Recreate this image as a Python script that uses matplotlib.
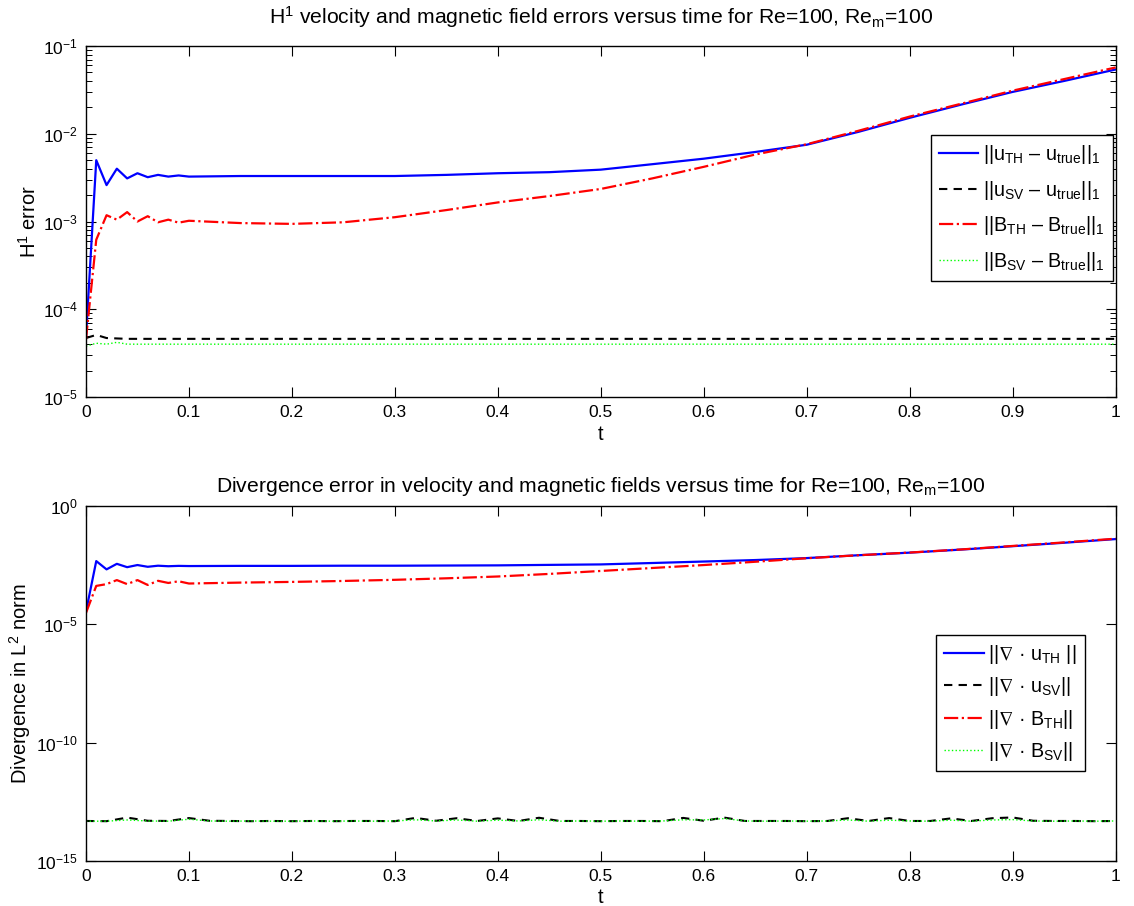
import matplotlib
matplotlib.use("Agg")
import matplotlib.pyplot as plt
from matplotlib.ticker import FixedLocator, NullLocator, FormatStrFormatter

plt.rcParams['font.family'] = ['Liberation Sans', 'DejaVu Sans']
plt.rcParams['mathtext.fontset'] = 'custom'
plt.rcParams['mathtext.rm'] = 'Liberation Sans'
plt.rcParams['mathtext.it'] = 'Liberation Sans:italic'
plt.rcParams['mathtext.bf'] = 'Liberation Sans:bold'
plt.rcParams['mathtext.fallback'] = 'stixsans'

# time samples (fine at start where the transient is, coarser later)
t = [0.00, 0.01, 0.02, 0.03, 0.04, 0.05, 0.06, 0.07, 0.08, 0.09, 0.10,
     0.15, 0.20, 0.25, 0.30, 0.35, 0.40, 0.45, 0.50, 0.55, 0.60,
     0.65, 0.70, 0.75, 0.80, 0.85, 0.90, 0.95, 1.00]

# H1 errors (top panel)
h1_u_th = [4.8e-5, 5.0e-3, 2.6e-3, 4.0e-3, 3.1e-3, 3.55e-3, 3.2e-3, 3.4e-3, 3.25e-3, 3.35e-3, 3.25e-3,
           3.3e-3, 3.3e-3, 3.3e-3, 3.3e-3, 3.4e-3, 3.55e-3, 3.65e-3, 3.9e-3, 4.5e-3, 5.2e-3,
           6.2e-3, 7.5e-3, 1.05e-2, 1.52e-2, 2.15e-2, 3.0e-2, 4.0e-2, 5.4e-2]
h1_u_sv = [4.7e-5, 5.1e-5, 4.7e-5, 4.65e-5, 4.6e-5, 4.6e-5, 4.6e-5, 4.6e-5, 4.6e-5, 4.6e-5, 4.6e-5,
           4.6e-5, 4.6e-5, 4.6e-5, 4.6e-5, 4.6e-5, 4.6e-5, 4.6e-5, 4.6e-5, 4.6e-5, 4.6e-5,
           4.6e-5, 4.6e-5, 4.6e-5, 4.6e-5, 4.6e-5, 4.6e-5, 4.6e-5, 4.6e-5]
h1_b_th = [4.5e-5, 6.2e-4, 1.18e-3, 1.05e-3, 1.28e-3, 1.0e-3, 1.15e-3, 0.98e-3, 1.05e-3, 0.97e-3, 1.02e-3,
           0.96e-3, 0.94e-3, 0.98e-3, 1.12e-3, 1.35e-3, 1.65e-3, 1.95e-3, 2.35e-3, 3.1e-3, 4.2e-3,
           5.8e-3, 7.6e-3, 1.08e-2, 1.57e-2, 2.2e-2, 3.1e-2, 4.2e-2, 5.7e-2]
h1_b_sv = [3.8e-5, 4.1e-5, 4.0e-5, 4.2e-5, 4.0e-5, 4.0e-5, 4.0e-5, 4.0e-5, 4.0e-5, 4.0e-5, 4.0e-5,
           4.0e-5, 4.0e-5, 4.0e-5, 4.0e-5, 4.0e-5, 4.0e-5, 4.0e-5, 4.0e-5, 4.0e-5, 4.0e-5,
           4.0e-5, 4.0e-5, 4.0e-5, 4.0e-5, 4.0e-5, 4.0e-5, 4.0e-5, 4.0e-5]

# divergence (bottom panel)
div_u_th = [3.4e-5, 4.7e-3, 2.1e-3, 3.6e-3, 2.6e-3, 3.2e-3, 2.7e-3, 3.0e-3, 2.85e-3, 2.95e-3, 2.9e-3,
            2.95e-3, 2.95e-3, 3.0e-3, 3.0e-3, 3.05e-3, 3.1e-3, 3.25e-3, 3.4e-3, 3.9e-3, 4.5e-3,
            5.2e-3, 6.3e-3, 8.3e-3, 1.07e-2, 1.44e-2, 2.0e-2, 2.8e-2, 4.0e-2]
div_b_th = [3.0e-5, 4.2e-4, 5.0e-4, 7.4e-4, 5.0e-4, 7.4e-4, 4.6e-4, 6.9e-4, 5.6e-4, 6.6e-4, 5.3e-4,
            5.8e-4, 6.2e-4, 6.8e-4, 7.6e-4, 8.8e-4, 1.05e-3, 1.35e-3, 1.8e-3, 2.4e-3, 3.2e-3,
            4.4e-3, 6.2e-3, 8.3e-3, 1.08e-2, 1.46e-2, 2.05e-2, 2.9e-2, 4.15e-2]

# SV divergence is at round-off level, sampled every 0.02
t_sv = [0.00, 0.02, 0.04, 0.06, 0.08, 0.10, 0.12, 0.14, 0.16, 0.18,
        0.20, 0.22, 0.24, 0.26, 0.28, 0.30, 0.32, 0.34, 0.36, 0.38,
        0.40, 0.42, 0.44, 0.46, 0.48, 0.50, 0.52, 0.54, 0.56, 0.58,
        0.60, 0.62, 0.64, 0.66, 0.68, 0.70, 0.72, 0.74, 0.76, 0.78,
        0.80, 0.82, 0.84, 0.86, 0.88, 0.90, 0.92, 0.94, 0.96, 0.98, 1.00]
div_u_sv = [4.9e-14, 4.8e-14, 6.8e-14, 5.0e-14, 4.9e-14, 6.5e-14, 5.0e-14, 4.9e-14, 4.8e-14, 4.9e-14,
            4.8e-14, 4.9e-14, 4.8e-14, 4.9e-14, 4.9e-14, 4.8e-14, 6.6e-14, 5.0e-14, 6.4e-14, 4.9e-14,
            6.3e-14, 4.9e-14, 6.7e-14, 4.9e-14, 4.9e-14, 4.8e-14, 4.9e-14, 4.9e-14, 4.8e-14, 6.6e-14,
            5.0e-14, 6.8e-14, 4.9e-14, 4.9e-14, 4.9e-14, 4.8e-14, 4.9e-14, 6.4e-14, 4.9e-14, 6.5e-14,
            4.9e-14, 4.9e-14, 6.3e-14, 4.9e-14, 6.4e-14, 6.9e-14, 5.0e-14, 4.9e-14, 4.9e-14, 4.8e-14, 4.9e-14]
div_b_sv = [4.8e-14, 4.8e-14, 5.4e-14, 4.9e-14, 4.8e-14, 5.8e-14, 4.9e-14, 4.8e-14, 4.9e-14, 4.8e-14,
            4.8e-14, 4.9e-14, 4.8e-14, 4.9e-14, 4.8e-14, 4.9e-14, 5.5e-14, 4.9e-14, 5.4e-14, 4.8e-14,
            5.3e-14, 4.9e-14, 5.5e-14, 4.8e-14, 4.9e-14, 4.8e-14, 4.9e-14, 4.8e-14, 4.9e-14, 5.5e-14,
            5.4e-14, 6.2e-14, 4.9e-14, 4.8e-14, 4.9e-14, 4.8e-14, 4.9e-14, 5.4e-14, 4.8e-14, 5.3e-14,
            4.9e-14, 4.8e-14, 5.3e-14, 4.8e-14, 5.4e-14, 5.6e-14, 4.9e-14, 4.8e-14, 4.9e-14, 4.8e-14, 4.9e-14]

x_ticks = [0, 0.1, 0.2, 0.3, 0.4, 0.5, 0.6, 0.7, 0.8, 0.9, 1.0]

BLUE = (0, 0, 1)
RED = (1, 0, 0)
GREEN = (0, 1, 0)


def style_axes(ax):
    ax.set_xlim(0, 1)
    ax.xaxis.set_major_locator(FixedLocator(x_ticks))
    ax.xaxis.set_major_formatter(FormatStrFormatter('%g'))
    ax.tick_params(which='both', direction='in', top=True, right=True, labelsize=12.5, pad=6)
    ax.tick_params(which='major', length=7, width=0.8)
    ax.tick_params(which='minor', length=4, width=0.7)
    for sp in ax.spines.values():
        sp.set_linewidth(1.0)
    ax.set_xlabel('t', fontsize=14.5, labelpad=3)


def add_legend(ax, anchor, spacing):
    leg = ax.legend(loc='upper right', bbox_to_anchor=anchor, fontsize=14.2,
                    fancybox=False, edgecolor='black', framealpha=1, borderaxespad=0,
                    handlelength=2.0, handletextpad=0.25, labelspacing=spacing, borderpad=0.4)
    leg.get_frame().set_linewidth(1.0)
    return leg


fig = plt.figure(figsize=(11.34, 9.06), dpi=100)

# ---- top: H1 errors ----
ax1 = fig.add_axes([0.0758, 0.5618, 0.908, 0.3874])
ax1.semilogy(t, h1_u_th, '-', color=BLUE, lw=1.6, label=r'||u$_{\mathrm{TH}}$ – u$_{\mathrm{true}}$||$_1$')
ax1.semilogy(t, h1_u_sv, '--', color='black', lw=1.5, dashes=(4, 3), label=r'||u$_{\mathrm{SV}}$ – u$_{\mathrm{true}}$||$_1$')
ax1.semilogy(t, h1_b_th, '-.', color=RED, lw=1.6, label=r'||B$_{\mathrm{TH}}$ – B$_{\mathrm{true}}$||$_1$')
ax1.semilogy(t, h1_b_sv, ':', color=GREEN, lw=1.0, label=r'||B$_{\mathrm{SV}}$ – B$_{\mathrm{true}}$||$_1$')
ax1.set_ylim(1e-5, 1e-1)
style_axes(ax1)
ax1.set_ylabel(r'H$^1$ error', fontsize=14.5, labelpad=2)
ax1.set_title(r'H$^1$ velocity and magnetic field errors versus time for Re=100, Re$_{\mathrm{m}}$=100',
              fontsize=15.2, pad=16)
add_legend(ax1, (0.997, 0.746), 0.64)

# ---- bottom: divergence ----
ax2 = fig.add_axes([0.0758, 0.0497, 0.908, 0.3918])
ax2.semilogy(t, div_u_th, '-', color=BLUE, lw=1.6, label=r'||$\nabla$ · u$_{\mathrm{TH}}$ ||')
ax2.semilogy(t_sv, div_u_sv, '--', color='black', lw=1.5, dashes=(4, 3), label=r'||$\nabla$ · u$_{\mathrm{SV}}$||')
ax2.semilogy(t, div_b_th, '-.', color=RED, lw=1.6, label=r'||$\nabla$ · B$_{\mathrm{TH}}$||')
ax2.semilogy(t_sv, div_b_sv, ':', color=GREEN, lw=1.0, label=r'||$\nabla$ · B$_{\mathrm{SV}}$||')
ax2.set_ylim(1e-15, 1e0)
ax2.yaxis.set_major_locator(FixedLocator([1e-15, 1e-10, 1e-5, 1e0]))
ax2.yaxis.set_minor_locator(NullLocator())
style_axes(ax2)
ax2.set_ylabel(r'Divergence in L$^2$ norm', fontsize=14.5, labelpad=2)
ax2.set_title(r'Divergence error in velocity and magnetic fields versus time for Re=100, Re$_{\mathrm{m}}$=100',
              fontsize=15.2, pad=10)
add_legend(ax2, (0.97, 0.637), 0.48)

fig.savefig('out.png', dpi=100)
